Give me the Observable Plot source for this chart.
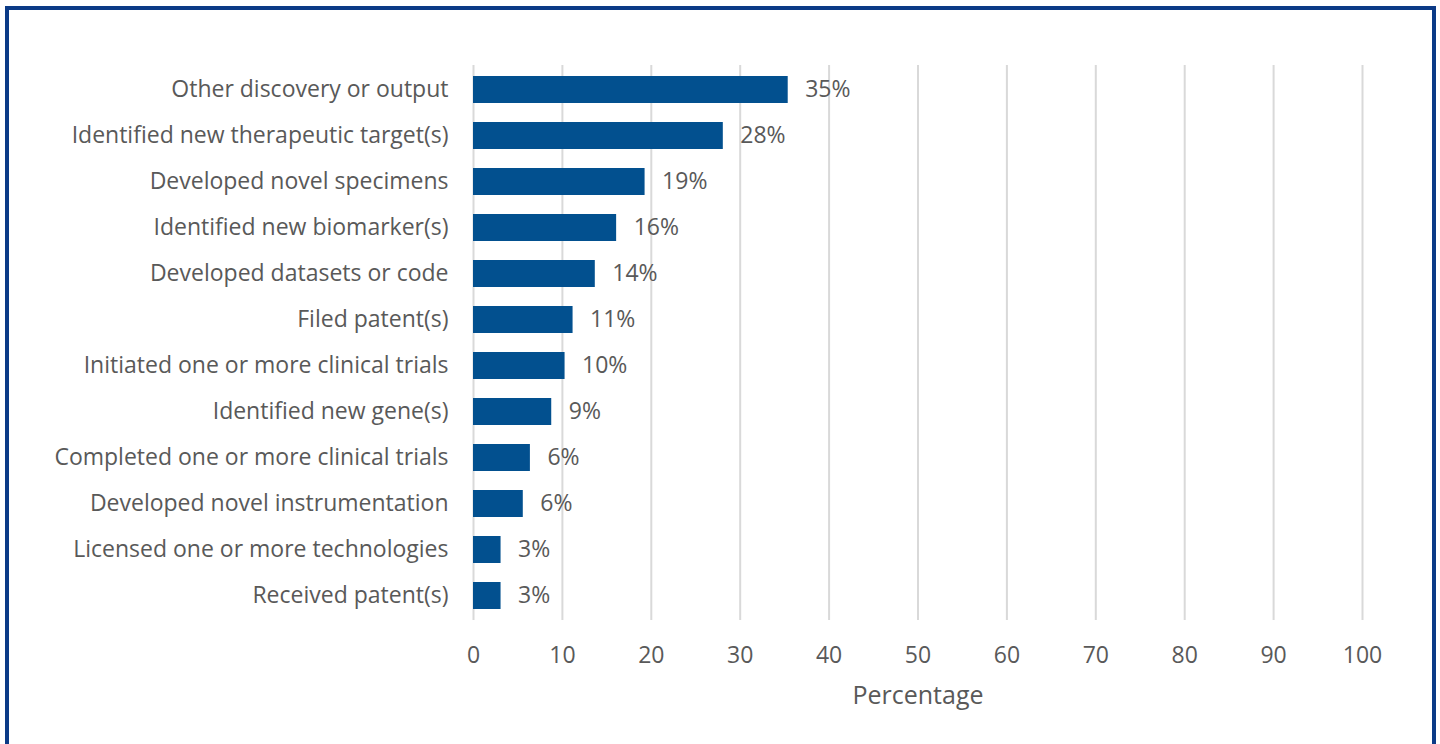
<!DOCTYPE html>
<html>
<head>
<meta charset="utf-8">
<script src="https://cdn.jsdelivr.net/npm/d3@7"></script>
<script src="https://cdn.jsdelivr.net/npm/@observablehq/plot@0.6"></script>
<style>
  html, body { margin: 0; padding: 0; background: #fff; }
  #wrap { position: relative; width: 1440px; height: 744px; overflow: hidden; }
  #frame { position: absolute; left: 5px; top: 6px; width: 1423px; height: 760px;
           border: 4px solid #0b3a86; border-bottom: none; }
  #chart { position: absolute; left: 0; top: 0; }
</style>
</head>
<body>
<div id="wrap">
  <div id="frame"></div>
  <div id="chart"></div>
</div>
<script>
const categories = [
  "Other discovery or output",
  "Identified new therapeutic target(s)",
  "Developed novel specimens",
  "Identified new biomarker(s)",
  "Developed datasets or code",
  "Filed patent(s)",
  "Initiated one or more clinical trials",
  "Identified new gene(s)",
  "Completed one or more clinical trials",
  "Developed novel instrumentation",
  "Licensed one or more technologies",
  "Received patent(s)"
];
const values = [35.4, 28.1, 19.3, 16.1, 13.7, 11.2, 10.3, 8.8, 6.4, 5.6, 3.1, 3.1];
const valueLabels = ["35%", "28%", "19%", "16%", "14%", "11%", "10%", "9%", "6%", "6%", "3%", "3%"];
const xTicks = [0, 10, 20, 30, 40, 50, 60, 70, 80, 90, 100];

const data = categories.map((c, i) => ({ category: c, value: values[i], label: valueLabels[i] }));

const font = "'Open Sans', sans-serif";
const grey = "#595959";

const chart = Plot.plot({
  width: 1440,
  height: 744,
  marginLeft: 473,
  marginRight: 78,
  marginTop: 65,
  marginBottom: 124,
  style: { fontFamily: font, fontSize: "23px", color: grey, background: "transparent" },
  x: { domain: [0, 100], ticks: xTicks },
  y: { domain: categories, paddingInner: 0.42, paddingOuter: 0.21 },
  marks: [
    Plot.gridX(xTicks, { stroke: "#d9d9d9", strokeOpacity: 1, strokeWidth: 2 }),
    Plot.barX(data, { x: "value", y: "category", fill: "#02508f" }),
    Plot.text(data, { x: "value", y: "category", text: "label", textAnchor: "start", dx: 17,
                      fill: grey, fontSize: 23, fontFamily: font }),
    Plot.axisX({ ticks: xTicks, tickSize: 0, tickPadding: 26, fontSize: 23, fill: grey, label: null }),
    Plot.text(["Percentage"], { frameAnchor: "bottom", dy: 83, fill: grey, fontSize: 25, fontFamily: font }),
    Plot.axisY({ tickSize: 0, tickPadding: 25, fontSize: 23, fill: grey, label: null })
  ]
});
document.getElementById("chart").appendChild(chart);
</script>
</body>
</html>
